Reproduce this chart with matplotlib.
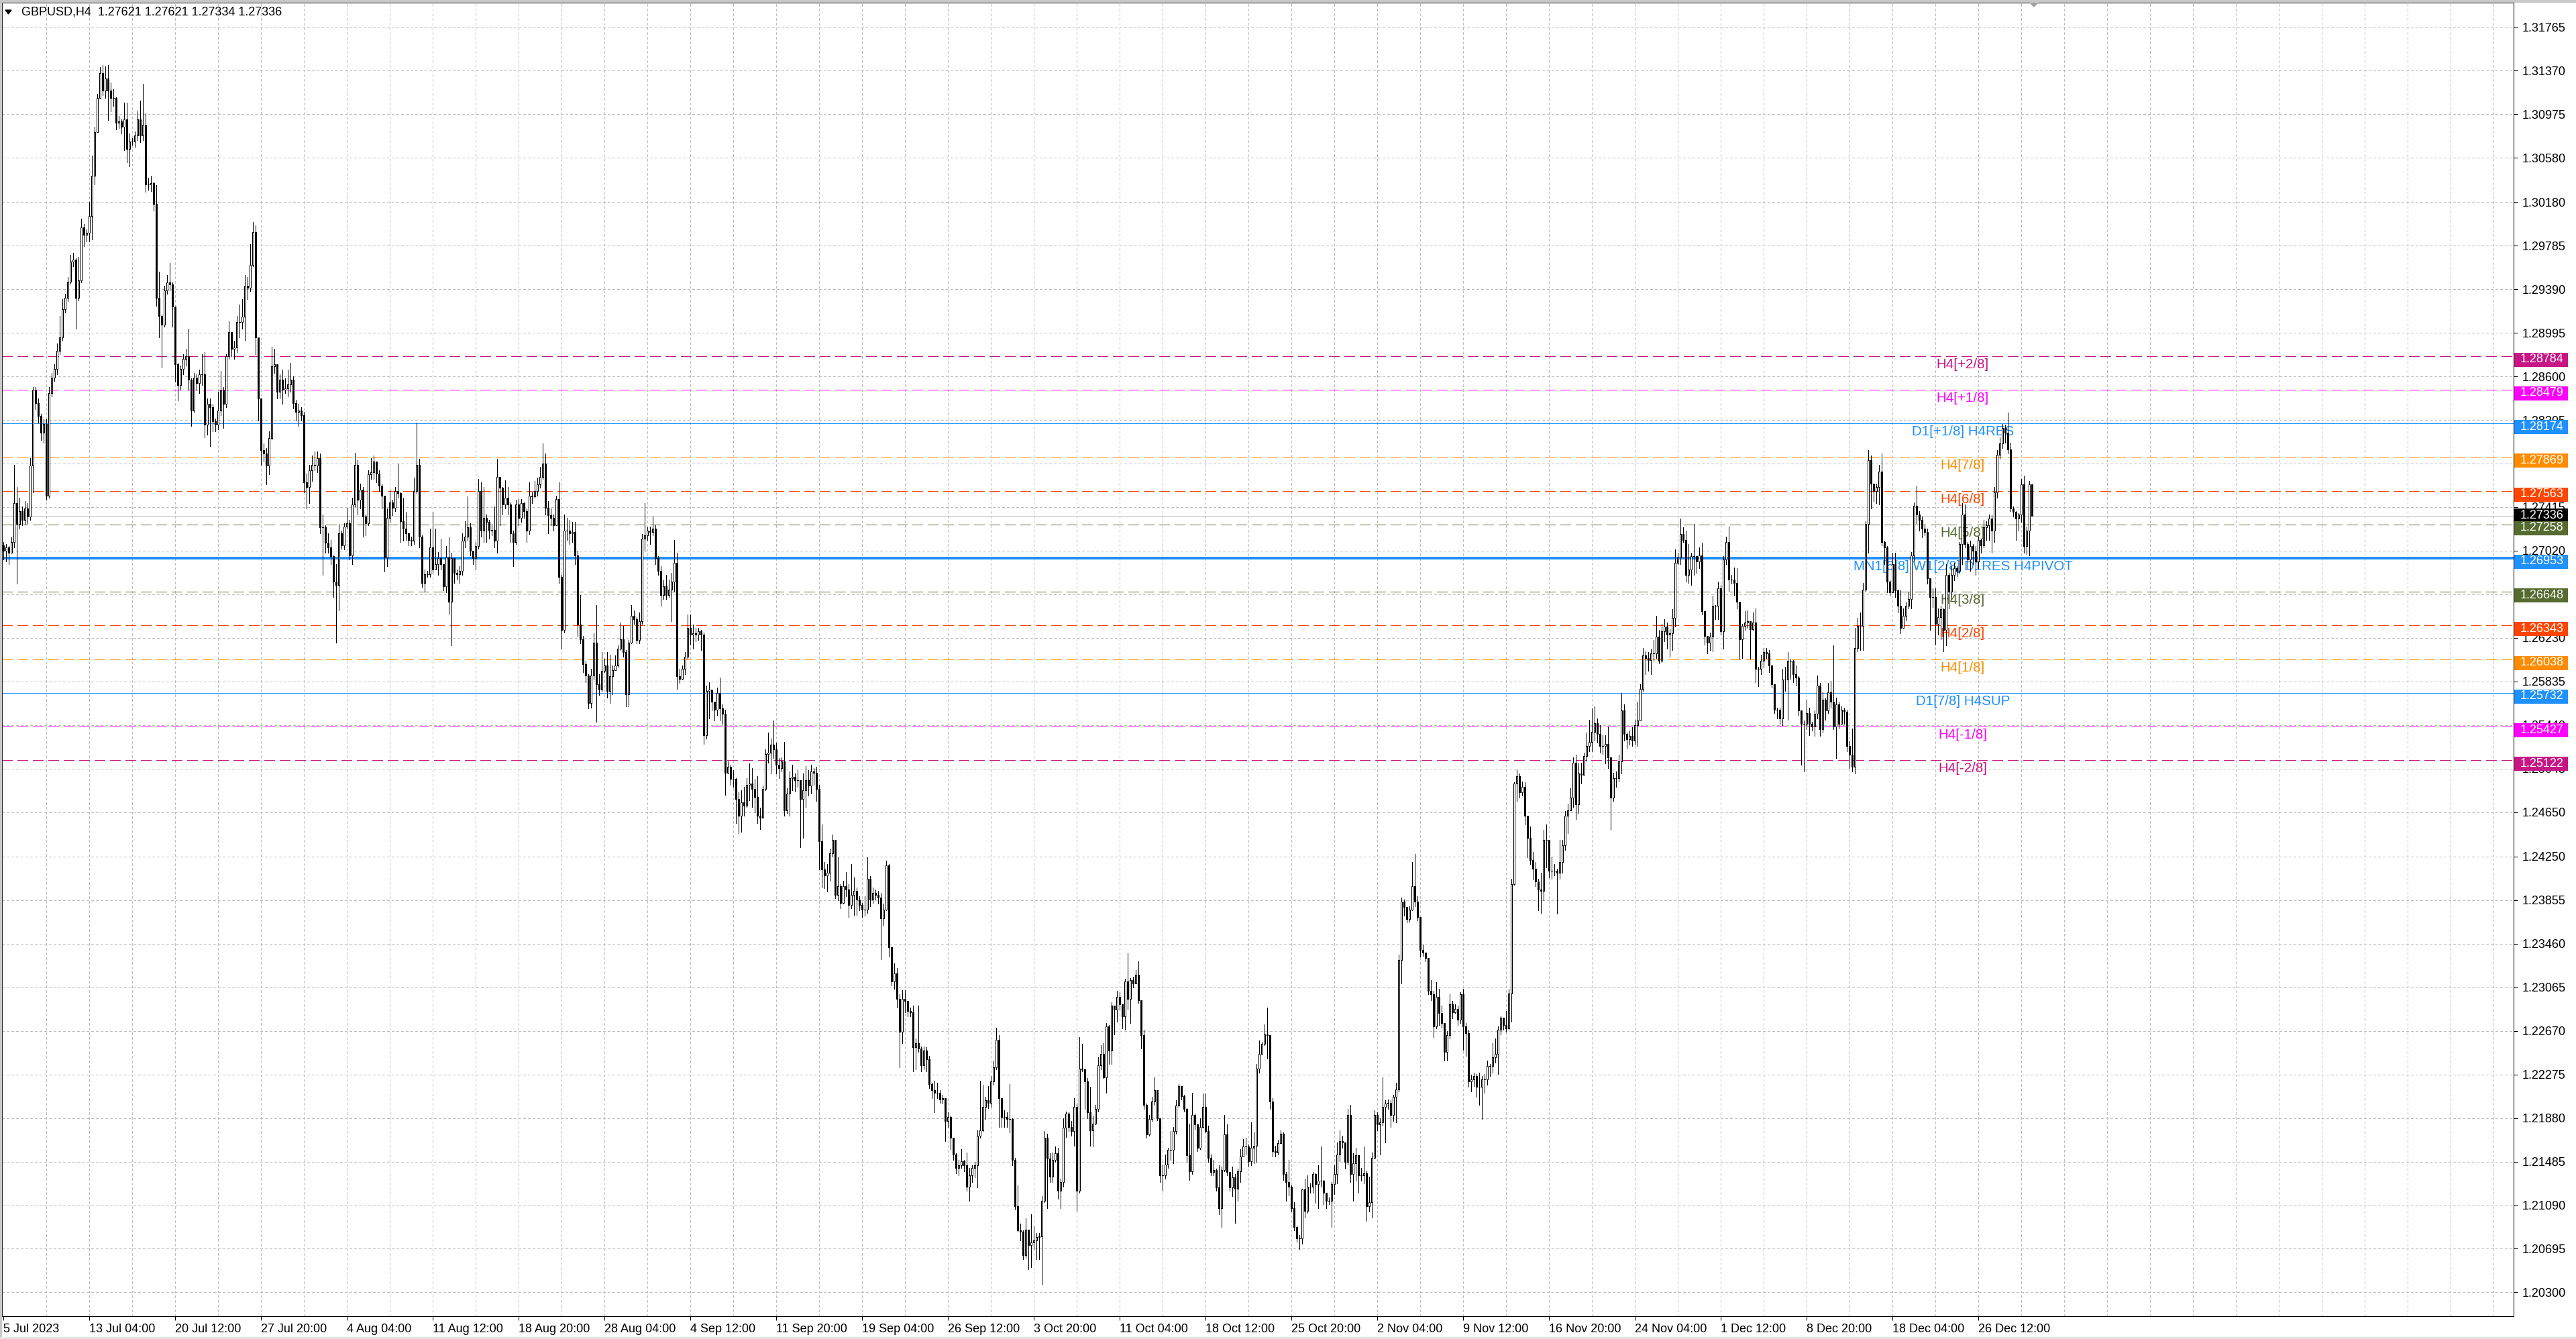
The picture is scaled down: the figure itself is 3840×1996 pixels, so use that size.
import matplotlib
matplotlib.use("Agg")
import matplotlib.pyplot as plt
import matplotlib.transforms as mtransforms
from matplotlib.patches import Rectangle, Polygon
import numpy as np

plt.rcParams['font.family'] = ['Liberation Sans', 'DejaVu Sans']

symbol_line = "GBPUSD,H4  1.27621 1.27621 1.27334 1.27336"

# H4 bars, 5 Jul 2023 20:00 .. 29 Dec 2023 20:00
# prices in pips above 1.20000, open = previous close
first_open = 707
close_pips = [
    702, 705, 700, 710, 745, 726, 738, 730, 740, 733,
    779, 848, 836, 824, 809, 817, 752, 845, 859, 867,
    883, 895, 921, 931, 946, 964, 966, 931, 947, 995,
    988, 990, 1005, 1042, 1081, 1112, 1135, 1119, 1130, 1119,
    1112, 1112, 1090, 1091, 1086, 1093, 1066, 1073, 1073, 1078,
    1093, 1078, 1088, 1034, 1034, 1035, 1016, 931, 915, 907,
    938, 945, 943, 923, 871, 852, 867, 876, 878, 857,
    829, 859, 854, 862, 862, 816, 835, 832, 819, 816,
    829, 848, 835, 878, 900, 885, 886, 909, 909, 914,
    942, 940, 961, 991, 895, 840, 793, 790, 779, 804,
    869, 871, 846, 857, 848, 849, 853, 857, 836, 828,
    829, 825, 764, 760, 775, 780, 779, 786, 723, 723,
    709, 705, 697, 674, 671, 718, 707, 724, 727, 698,
    744, 780, 748, 757, 733, 727, 771, 773, 783, 772,
    761, 752, 696, 732, 746, 741, 756, 754, 729, 722,
    718, 712, 711, 756, 780, 715, 673, 681, 681, 705,
    685, 690, 695, 690, 670, 696, 656, 695, 682, 681,
    684, 711, 715, 723, 702, 695, 706, 756, 720, 732,
    728, 720, 721, 711, 769, 759, 744, 750, 744, 718,
    710, 744, 732, 745, 738, 720, 752, 751, 756, 762,
    769, 781, 741, 734, 732, 725, 749, 678, 630, 720,
    720, 718, 719, 698, 635, 622, 599, 589, 564, 589,
    619, 581, 576, 593, 598, 575, 588, 594, 598, 613,
    622, 610, 572, 619, 643, 640, 621, 638, 713, 716,
    720, 719, 722, 695, 684, 662, 670, 662, 667, 674,
    691, 588, 586, 595, 606, 632, 626, 627, 626, 629,
    626, 535, 575, 576, 565, 558, 573, 559, 554, 501,
    506, 495, 495, 477, 462, 474, 471, 490, 491, 486,
    479, 462, 460, 486, 518, 519, 526, 522, 508, 505,
    511, 467, 482, 496, 497, 494, 494, 477, 485, 494,
    489, 502, 501, 486, 439, 413, 408, 410, 428, 440,
    390, 398, 383, 398, 395, 381, 390, 394, 386, 381,
    377, 377, 405, 386, 392, 390, 388, 369, 377, 417,
    343, 312, 319, 296, 266, 296, 294, 285, 284, 252,
    256, 251, 236, 249, 241, 219, 213, 211, 211, 205,
    206, 185, 189, 170, 155, 143, 145, 149, 145, 126,
    136, 143, 145, 172, 177, 198, 204, 202, 221, 234,
    259, 206, 189, 189, 187, 187, 150, 108, 86, 85,
    64, 87, 73, 75, 77, 80, 81, 113, 170, 151,
    135, 150, 156, 122, 130, 179, 192, 180, 176, 198,
    122, 233, 232, 221, 193, 177, 183, 196, 236, 246,
    225, 271, 249, 290, 286, 298, 291, 280, 312, 296,
    313, 310, 318, 295, 263, 200, 173, 187, 203, 213,
    188, 136, 136, 146, 159, 159, 176, 199, 217, 208,
    196, 154, 140, 191, 182, 161, 180, 198, 176, 152,
    139, 141, 125, 106, 141, 173, 139, 125, 134, 124,
    140, 153, 162, 162, 149, 161, 163, 233, 246, 255,
    264, 263, 203, 158, 157, 165, 174, 137, 130, 126,
    106, 89, 79, 79, 123, 104, 126, 126, 137, 128,
    131, 131, 120, 113, 113, 128, 137, 155, 167, 166,
    148, 191, 137, 147, 154, 136, 136, 138, 108, 112,
    152, 191, 182, 184, 198, 201, 202, 191, 207, 214,
    331, 384, 379, 368, 377, 398, 384, 370, 340, 338,
    333, 303, 300, 271, 298, 283, 274, 248, 263, 291,
    284, 287, 277, 300, 271, 265, 221, 223, 226, 216,
    216, 223, 223, 235, 235, 243, 246, 268, 279, 272,
    269, 301, 400, 491, 498, 483, 488, 462, 442, 422,
    414, 402, 395, 394, 440, 440, 412, 412, 412, 410,
    420, 435, 462, 467, 478, 510, 472, 500, 499, 516,
    525, 529, 538, 546, 536, 525, 525, 527, 515, 478,
    496, 496, 511, 557, 536, 531, 534, 530, 544, 548,
    577, 607, 605, 603, 609, 609, 624, 602, 629, 633,
    626, 627, 641, 691, 696, 717, 712, 680, 685, 697,
    697, 692, 698, 647, 625, 619, 624, 652, 652, 668,
    629, 694, 710, 676, 676, 673, 656, 622, 634, 637,
    638, 631, 637, 595, 595, 602, 610, 609, 598, 581,
    558, 558, 550, 585, 585, 602, 602, 590, 587, 557,
    545, 545, 555, 545, 543, 554, 580, 540, 567, 557,
    574, 565, 543, 563, 545, 558, 556, 525, 517, 506,
    614, 634, 634, 667, 726, 784, 763, 756, 760, 774,
    710, 705, 674, 664, 690, 666, 652, 632, 643, 652,
    658, 698, 743, 735, 730, 722, 719, 677, 660, 660,
    636, 642, 649, 630, 680, 665, 680, 686, 684, 708,
    735, 708, 694, 706, 702, 692, 712, 707, 723, 725,
    731, 720, 755, 789, 799, 813, 809, 794, 740, 737,
    731, 735, 762, 706, 720, 762.1, 733.6,
]
high_pips = [
    710, 708, 706, 714, 780, 760, 750, 742, 747, 745,
    786, 850, 850, 840, 826, 822, 821, 850, 863, 871,
    890, 915, 930, 935, 950, 970, 972, 967, 968, 1003,
    998, 993, 1018, 1060, 1086, 1116, 1140, 1142, 1141, 1142,
    1126, 1120, 1113, 1096, 1093, 1108, 1108, 1080, 1076, 1082,
    1100, 1110, 1125, 1098, 1040, 1042, 1036, 1033, 955, 916,
    942, 952, 963, 945, 923, 872, 870, 880, 885, 903,
    858, 863, 862, 866, 880, 882, 840, 840, 835, 822,
    846, 865, 850, 880, 910, 900, 892, 915, 925, 930,
    952, 950, 980, 1000, 997, 895, 840, 799, 795, 810,
    887, 885, 871, 862, 866, 858, 866, 872, 860, 839,
    835, 832, 828, 772, 780, 788, 792, 792, 790, 735,
    725, 718, 712, 698, 690, 726, 720, 727, 741, 730,
    750, 791, 784, 763, 760, 735, 775, 786, 788, 783,
    775, 763, 752, 740, 757, 748, 760, 781, 755, 750,
    737, 718, 715, 768, 818, 785, 716, 685, 684, 722,
    737, 722, 701, 713, 690, 706, 714, 700, 695, 685,
    688, 718, 729, 751, 727, 702, 710, 767, 764, 760,
    735, 730, 726, 742, 785, 769, 760, 766, 760, 746,
    720, 748, 749, 749, 746, 740, 764, 755, 765, 768,
    778, 799, 790, 747, 740, 735, 752, 764, 680, 735,
    732, 730, 728, 728, 702, 662, 625, 602, 590, 595,
    627, 653, 590, 610, 604, 610, 608, 598, 607, 616,
    637, 634, 612, 621, 653, 648, 642, 646, 717, 745,
    723, 724, 733, 725, 697, 688, 675, 680, 676, 682,
    712, 700, 595, 598, 610, 644, 644, 635, 632, 632,
    630, 628, 580, 583, 575, 563, 578, 587, 563, 558,
    511, 508, 503, 496, 483, 485, 488, 496, 509, 505,
    495, 498, 469, 489, 522, 537, 532, 548, 528, 514,
    515, 529, 487, 502, 508, 500, 503, 492, 500, 507,
    503, 508, 505, 506, 490, 454, 420, 418, 432, 445,
    440, 424, 400, 403, 411, 400, 418, 406, 397, 389,
    383, 389, 424, 407, 397, 395, 394, 392, 382, 421,
    418, 343, 328, 324, 300, 304, 304, 293, 288, 290,
    260, 290, 253, 253, 252, 244, 220, 222, 220, 213,
    209, 206, 193, 190, 170, 156, 150, 160, 150, 157,
    143, 145, 148, 177, 222, 218, 207, 217, 226, 240,
    270, 263, 206, 195, 193, 219, 188, 152, 127, 92,
    86, 97, 87, 101, 90, 84, 84, 117, 176, 174,
    156, 157, 162, 161, 133, 188, 194, 193, 185, 206,
    201, 261, 255, 225, 224, 216, 190, 200, 243, 254,
    256, 274, 272, 293, 290, 303, 302, 291, 314, 337,
    315, 316, 322, 330, 295, 268, 201, 191, 207, 225,
    213, 188, 145, 155, 161, 176, 180, 204, 219, 217,
    209, 197, 183, 211, 192, 181, 188, 210, 210, 181,
    155, 150, 142, 145, 144, 191, 182, 139, 144, 137,
    142, 160, 169, 170, 164, 184, 175, 237, 258, 257,
    273, 288, 263, 206, 163, 168, 177, 175, 139, 150,
    127, 112, 90, 82, 124, 133, 136, 129, 139, 138,
    145, 162, 132, 120, 116, 130, 145, 166, 177, 172,
    156, 196, 200, 156, 161, 149, 143, 162, 140, 135,
    157, 195, 193, 188, 225, 204, 205, 204, 209, 220,
    336, 388, 386, 373, 380, 420, 427, 389, 370, 345,
    338, 331, 313, 303, 311, 305, 290, 274, 267, 300,
    294, 291, 290, 302, 305, 274, 268, 227, 229, 228,
    229, 226, 228, 240, 237, 256, 260, 271, 281, 277,
    285, 305, 405, 492, 504, 500, 493, 492, 462, 452,
    429, 420, 405, 410, 449, 454, 430, 425, 418, 414,
    440, 440, 466, 473, 487, 515, 517, 509, 510, 519,
    537, 549, 559, 561, 550, 544, 535, 535, 543, 515,
    501, 502, 517, 573, 563, 537, 539, 542, 549, 565,
    581, 614, 611, 610, 613, 621, 643, 630, 636, 640,
    637, 631, 649, 703, 700, 731, 723, 720, 708, 700,
    726, 697, 705, 709, 647, 625, 628, 661, 653, 674,
    671, 697, 715, 724, 680, 687, 686, 656, 636, 647,
    648, 638, 646, 650, 597, 608, 614, 614, 612, 598,
    581, 560, 560, 595, 597, 610, 604, 603, 598, 588,
    557, 548, 567, 560, 547, 557, 589, 582, 574, 568,
    582, 584, 616, 569, 565, 561, 560, 558, 530, 541,
    632, 641, 646, 673, 729, 793, 788, 763, 763, 780,
    790, 711, 706, 675, 700, 700, 667, 666, 650, 655,
    665, 701, 746, 761, 738, 733, 725, 722, 677, 668,
    668, 650, 652, 650, 690, 682, 688, 691, 688, 710,
    745, 744, 710, 711, 708, 706, 715, 713, 730, 729,
    735, 734, 760, 793, 805, 817, 816, 827, 800, 742,
    738, 736, 767, 770, 724, 765, 762.1,
]
low_pips = [
    694, 692, 690, 700, 705, 672, 722, 725, 726, 727,
    730, 755, 830, 818, 802, 800, 748, 750, 842, 856,
    862, 880, 893, 918, 928, 944, 960, 903, 929, 945,
    978, 982, 982, 984, 1034, 1081, 1112, 1115, 1112, 1092,
    1100, 1105, 1084, 1085, 1080, 1065, 1054, 1050, 1070, 1068,
    1074, 1072, 1074, 1027, 1029, 1028, 1010, 924, 895, 868,
    905, 935, 938, 905, 855, 838, 848, 862, 870, 848,
    815, 828, 848, 845, 852, 805, 807, 797, 810, 810,
    812, 825, 813, 832, 876, 878, 876, 882, 895, 903,
    893, 930, 937, 960, 880, 820, 780, 783, 762, 771,
    803, 863, 840, 840, 835, 845, 842, 846, 831, 820,
    815, 820, 755, 740, 745, 765, 775, 773, 718, 680,
    700, 700, 690, 660, 619, 648, 704, 703, 722, 694,
    690, 742, 735, 740, 715, 716, 725, 767, 767, 764,
    756, 740, 683, 688, 728, 734, 738, 750, 710, 711,
    712, 707, 707, 708, 754, 705, 669, 665, 678, 678,
    682, 685, 680, 685, 666, 664, 645, 616, 673, 676,
    673, 680, 705, 712, 698, 690, 685, 704, 715, 710,
    710, 713, 716, 705, 700, 725, 735, 740, 735, 710,
    688, 708, 725, 728, 732, 710, 717, 745, 750, 752,
    759, 767, 735, 718, 725, 720, 725, 673, 614, 628,
    712, 708, 710, 690, 625, 618, 592, 583, 559, 560,
    585, 547, 571, 575, 592, 569, 564, 572, 594, 597,
    612, 606, 561, 561, 618, 636, 618, 618, 636, 702,
    712, 708, 716, 690, 680, 652, 658, 658, 660, 638,
    665, 577, 582, 585, 590, 604, 617, 613, 620, 621,
    612, 527, 532, 550, 557, 548, 553, 548, 545, 481,
    500, 490, 488, 455, 446, 447, 462, 470, 476, 470,
    465, 455, 450, 470, 485, 510, 500, 514, 500, 496,
    502, 462, 464, 462, 485, 484, 488, 433, 442, 470,
    480, 482, 490, 475, 413, 397, 396, 393, 403, 425,
    387, 385, 378, 382, 389, 370, 378, 372, 372, 376,
    370, 371, 374, 380, 383, 386, 382, 332, 363, 376,
    334, 308, 305, 288, 234, 256, 284, 280, 280, 230,
    232, 248, 230, 232, 230, 215, 206, 193, 206, 202,
    201, 167, 180, 160, 150, 138, 136, 143, 140, 122,
    113, 130, 134, 125, 170, 176, 187, 197, 198, 218,
    232, 180, 180, 180, 180, 175, 145, 105, 85, 77,
    60, 61, 51, 53, 69, 60, 60, 37, 112, 106,
    130, 130, 148, 115, 106, 126, 171, 176, 172, 163,
    104, 120, 230, 196, 188, 163, 162, 182, 194, 232,
    224, 211, 237, 237, 264, 275, 286, 269, 268, 287,
    274, 306, 310, 292, 251, 196, 170, 172, 185, 200,
    186, 130, 122, 133, 143, 150, 147, 174, 198, 205,
    194, 148, 132, 137, 178, 158, 160, 179, 175, 148,
    136, 136, 122, 101, 89, 140, 136, 122, 117, 93,
    113, 130, 153, 155, 144, 145, 147, 148, 229, 247,
    254, 242, 196, 153, 153, 155, 167, 132, 113, 118,
    103, 86, 76, 69, 74, 98, 102, 120, 120, 111,
    106, 126, 110, 106, 110, 89, 119, 129, 149, 161,
    142, 146, 130, 113, 131, 120, 131, 129, 95, 103,
    98, 152, 177, 155, 181, 166, 196, 180, 185, 184,
    212, 310, 371, 365, 366, 376, 380, 367, 334, 335,
    330, 300, 295, 261, 269, 272, 270, 240, 240, 260,
    278, 283, 272, 274, 250, 244, 216, 212, 217, 207,
    200, 187, 211, 218, 226, 229, 238, 228, 264, 268,
    266, 268, 275, 399, 475, 478, 480, 454, 424, 418,
    404, 398, 376, 374, 385, 415, 406, 405, 408, 373,
    405, 410, 431, 446, 468, 470, 459, 464, 491, 505,
    512, 520, 520, 530, 528, 519, 518, 509, 505, 449,
    475, 488, 493, 500, 530, 523, 526, 525, 526, 525,
    548, 575, 590, 593, 590, 602, 605, 600, 601, 620,
    613, 606, 612, 633, 690, 690, 710, 674, 673, 671,
    680, 682, 686, 644, 617, 609, 612, 611, 640, 640,
    626, 613, 690, 665, 672, 662, 650, 604, 605, 630,
    632, 604, 630, 583, 579, 590, 597, 605, 592, 578,
    555, 550, 545, 544, 575, 549, 586, 583, 580, 553,
    508, 502, 540, 535, 539, 534, 550, 534, 537, 549,
    555, 560, 540, 514, 541, 545, 545, 520, 505, 502,
    500, 611, 612, 612, 665, 700, 740, 747, 745, 744,
    707, 690, 664, 661, 665, 660, 646, 627, 634, 639,
    650, 650, 693, 727, 720, 714, 716, 672, 630, 651,
    617, 626, 622, 611, 616, 650, 658, 675, 679, 682,
    690, 705, 686, 684, 690, 680, 686, 700, 705, 712,
    712, 700, 710, 750, 785, 795, 800, 790, 738, 733,
    712, 720, 728, 700, 699, 698, 733.4,
]

time_labels = [
    "5 Jul 2023", "13 Jul 04:00", "20 Jul 12:00", "27 Jul 20:00", "4 Aug 04:00",
    "11 Aug 12:00", "18 Aug 20:00", "28 Aug 04:00", "4 Sep 12:00", "11 Sep 20:00",
    "19 Sep 04:00", "26 Sep 12:00", "3 Oct 20:00", "11 Oct 04:00", "18 Oct 12:00",
    "25 Oct 20:00", "2 Nov 04:00", "9 Nov 12:00", "16 Nov 20:00", "24 Nov 04:00",
    "1 Dec 12:00", "8 Dec 20:00", "18 Dec 04:00", "26 Dec 12:00",
]
price_ticks = [
    1.31765, 1.31370, 1.30975, 1.30580, 1.30180, 1.29785, 1.29390, 1.28995,
    1.28600, 1.28205, 1.27810, 1.27415, 1.27020, 1.26625, 1.26230, 1.25835,
    1.25440, 1.25045, 1.24650, 1.24250, 1.23855, 1.23460, 1.23065, 1.22670,
    1.22275, 1.21880, 1.21485, 1.21090, 1.20695, 1.20300,
]

level_prices = [1.28784, 1.28479, 1.28174, 1.27869, 1.27563, 1.27258, 1.26953,
                1.26648, 1.26343, 1.26038, 1.25732, 1.25427, 1.25122]
level_names = ["H4[+2/8]", "H4[+1/8]", "D1[+1/8] H4RES", "H4[7/8]", "H4[6/8]",
               "H4[5/8]", "MN1[6/8] W1[2/8] D1RES H4PIVOT", "H4[3/8]", "H4[2/8]",
               "H4[1/8]", "D1[7/8] H4SUP", "H4[-1/8]", "H4[-2/8]"]
bid_price = 1.27336

# styling of the levels
level_colors = ["#C71585", "#FF00FF", "#1E90FF", "#FF8C00", "#FF4500", "#556B2F",
                "#1E90FF", "#556B2F", "#FF4500", "#FF8C00", "#1E90FF", "#FF00FF",
                "#C71585"]
level_solid = [False, False, True, False, False, False, True,
               False, False, False, True, False, False]
level_width = [0.72, 0.72, 0.72, 0.72, 0.72, 0.72, 1.6,
               0.72, 0.72, 0.72, 0.72, 0.72, 0.72]

# ---- figure layout (pixels) ----
W, H = 3840, 1996
ax_l, ax_r, ax_t, ax_b = 3, 3747, 4, 1962
fig = plt.figure(figsize=(W / 100, H / 100), dpi=100)
fig.patch.set_facecolor("white")
ax = fig.add_axes([ax_l / W, 1 - ax_b / H, (ax_r - ax_l) / W, (ax_b - ax_t) / H])

close = 1.2 + np.array(close_pips, float) / 1e4
high = 1.2 + np.array(high_pips, float) / 1e4
low = 1.2 + np.array(low_pips, float) / 1e4
opn = np.concatenate([[1.2 + first_open / 1e4], close[:-1]])
high = np.maximum(high, np.maximum(opn, close))
low = np.minimum(low, np.minimum(opn, close))
x = np.arange(len(close))

y_top, y_bot = 1.31986, 1.20084
ax.set_xlim(-0.5, -0.5 + (ax_r - ax_l) / 4)
ax.set_ylim(y_bot, y_top)
py = (y_top - y_bot) / (ax_b - ax_t)      # price per pixel
axw = ax_r - ax_l                         # axes width in pixels

# grid
grid_col = "#BDBDBD"
for p in price_ticks:
    ax.axhline(p, color=grid_col, lw=0.72, ls=(0, (3, 3)), zorder=0, antialiased=False)
for b in range(16, 936, 16):
    ax.axvline(b, color=grid_col, lw=0.72, ls=(0, (3, 3)), zorder=0, antialiased=False)

# levels
trans = mtransforms.blended_transform_factory(ax.transAxes, ax.transData)
for p, name, col, solid, lw in zip(level_prices, level_names, level_colors,
                                   level_solid, level_width):
    ax.axhline(p, color=col, lw=lw, ls="-" if solid else (0, (16, 8)), zorder=2,
               antialiased=False)
    ax.annotate(name, xy=(0.7807, p), xycoords=trans, xytext=(0, -2.2),
                textcoords="offset points", ha="center", va="top", color=col,
                fontsize=14.8, zorder=2.5)
ax.axhline(bid_price, color="#C0C0C0", lw=0.72, zorder=2, antialiased=False)

# candles
ax.vlines(x, low, high, color="black", lw=0.72, zorder=3, antialiased=False)
bull = close >= opn
ax.bar(x, close - opn, bottom=opn, width=0.5,
       color=np.where(bull, "white", "black"), edgecolor="black",
       linewidth=0.72, zorder=4, antialiased=False)

# axes look
for s in ax.spines.values():
    s.set_color("black")
    s.set_linewidth(0.75)
ax.yaxis.tick_right()
ax.set_yticks(price_ticks)
ax.set_yticklabels([f"{p:.5f}" for p in price_ticks])
ax.tick_params(axis="y", length=4, width=0.75, pad=5, labelsize=13, colors="black")
ax.set_xticks(np.arange(len(time_labels)) * 32)
ax.set_xticklabels(time_labels, ha="left")
ax.tick_params(axis="x", length=4, width=0.75, pad=4, labelsize=13, colors="black")

# price boxes on the right scale
boxes = [(p, c, False) for p, c in zip(level_prices, level_colors)]
boxes.append((bid_price, "black", True))
boxes.sort(key=lambda b: -b[0])
for k, (p, col, is_bid) in enumerate(boxes):
    yc = p if is_bid else p - 5.5 * py
    ax.add_patch(Rectangle((1 + 1 / axw, yc - 10.5 * py), 80 / axw, 21 * py,
                           transform=trans, facecolor=col, edgecolor="none",
                           clip_on=False, zorder=6 + 2 * k))
    ax.text(1 + 10 / axw, yc + 0.5 * py, f"{p:.5f}", transform=trans, color="white",
            fontsize=13, ha="left", va="center", clip_on=False, zorder=7 + 2 * k)

# window chrome: title, menu arrow, shift marker, borders
fig.text(32 / W, 1 - 18 / H, symbol_line, fontsize=13, ha="left", va="center")
fig.add_artist(Polygon([[8 / W, 1 - 15 / H], [17 / W, 1 - 15 / H], [12.5 / W, 1 - 21 / H]],
                       closed=True, transform=fig.transFigure, color="black"))
fig.add_artist(Polygon([[3026 / W, 1 - 4 / H], [3038 / W, 1 - 4 / H], [3032 / W, 1 - 10 / H]],
                       closed=True, transform=fig.transFigure, color="#A0A0A0"))
fig.add_artist(Rectangle((0, 1 - 3 / H), 1, 3 / H, transform=fig.transFigure,
                         color="#C8C8C8"))
fig.add_artist(Rectangle((0, 0), 2 / W, 1, transform=fig.transFigure, color="#C8C8C8"))
fig.add_artist(Rectangle((0, 0), 1, 3 / H, transform=fig.transFigure, color="#E4E4E4"))

fig.savefig("out.png", dpi=100)
